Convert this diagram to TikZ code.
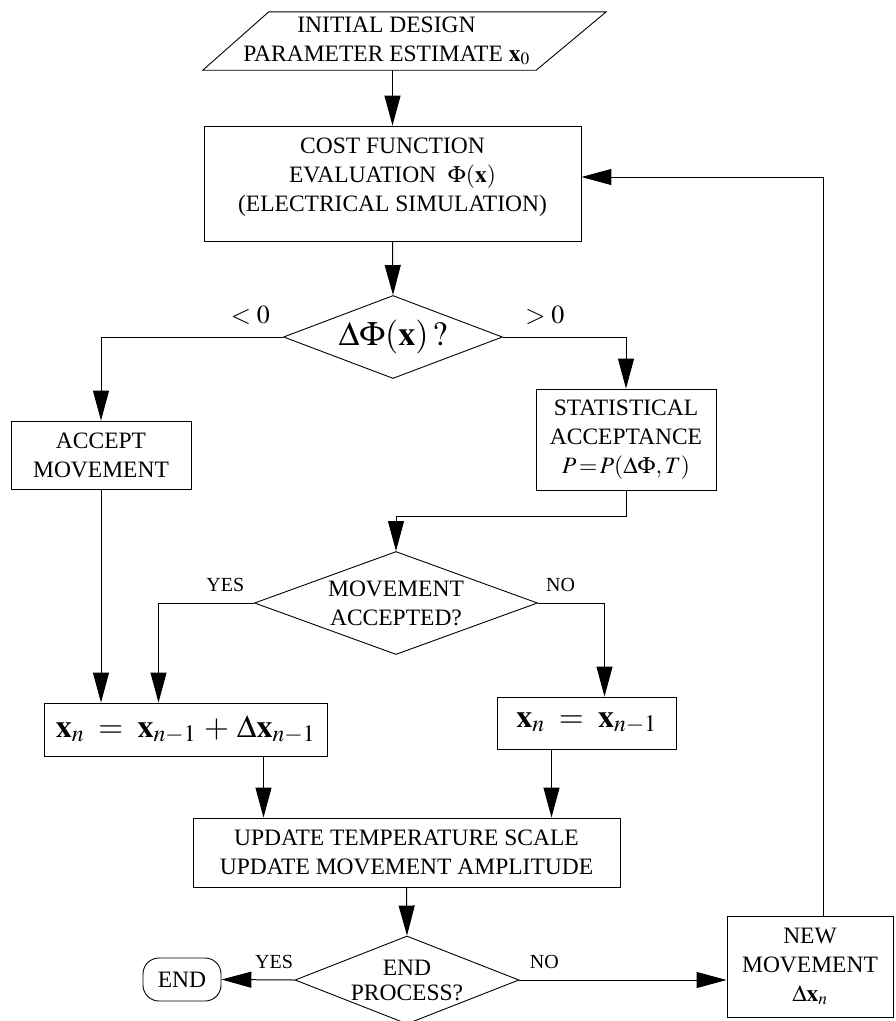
\documentclass[tikz,border=0pt]{standalone}
\usepackage{mathptmx}
\usepackage{fontspec}
\setmainfont{Liberation Serif}
\usetikzlibrary{arrows.meta,shapes.geometric,positioning}
\tikzset{
  box/.style={draw, line width=0.9pt, align=center, inner sep=2pt},
  decision/.style={draw, diamond, line width=0.9pt, align=center, inner sep=0pt},
  arr/.style={line width=1pt, -{Triangle[length=30pt,width=16pt]}},
  lbl/.style={font=\fontsize{20}{24}\selectfont, inner sep=2pt}}

\begin{document}
\begin{tikzpicture}[x=1pt, y=-1pt, font=\fontsize{23.5}{29}\selectfont]
  \useasboundingbox (0,0) rectangle (896,1021);

  \node[minimum width=403pt, minimum height=58pt, align=center, inner sep=1pt] (init) at (404.5,41)
        {\hspace*{-36pt}INITIAL DESIGN\\\hspace*{-36pt}PARAMETER ESTIMATE $\mathbf{x}_0$};
  \draw[line width=0.9pt] (init.south west) -- ([xshift=66pt]init.north west)
        -- (init.north east) -- ([xshift=-70pt]init.south east) -- cycle;
  \node[box, minimum width=377pt, minimum height=115pt] (cost) at (392.5,183.5)
        {COST FUNCTION\\EVALUATION\ \ $\Phi(\mathbf{x})$\\(ELECTRICAL SIMULATION)\\[-12pt]};
  \node[decision, aspect=2.64, minimum width=219pt, minimum height=83pt,
        font=\fontsize{34}{40}\selectfont] (delta) at (393,337) {$\Delta\Phi(\mathbf{x})\,?$};
  \node[box, minimum width=180pt, minimum height=68pt] (accept) at (101,455) {ACCEPT\\MOVEMENT};
  \node[box, minimum width=180pt, minimum height=101pt] (stat) at (626,439.5)
        {STATISTICAL\\ACCEPTANCE\\$P\!=\!P(\Delta\Phi,T)$};
  \node[decision, aspect=2.75, minimum width=283pt, minimum height=103pt] (moved) at (396,603) {MOVEMENT\\ACCEPTED?};
  \node[box, minimum width=283pt, minimum height=53pt, font=\fontsize{32}{38}\selectfont] (xnew) at (185.5,729.5)
        {$\mathbf{x}_n\;=\;\mathbf{x}_{n-1}\,+\,\Delta\mathbf{x}_{n-1}$};
  \node[box, minimum width=179pt, minimum height=52pt, font=\fontsize{32}{38}\selectfont] (xold) at (586.5,723)
        {$\mathbf{x}_n\;=\;\mathbf{x}_{n-1}$};
  \node[box, minimum width=427pt, minimum height=69pt] (update) at (406.5,852.5)
        {UPDATE TEMPERATURE SCALE\\UPDATE MOVEMENT AMPLITUDE};
  \node[decision, aspect=2.55, minimum width=224pt, minimum height=88pt,
        font=\fontsize{23.5}{25}\selectfont] (stop) at (407,980) {END\\PROCESS?};
  \node[box, rounded corners=16pt, minimum width=78pt, minimum height=43pt] (endn) at (182,979.5) {END};
  \node[box, minimum width=166pt, minimum height=101pt] (newmv) at (810,966.5)
        {NEW\\MOVEMENT\\$\Delta\mathbf{x}_n$};

  % main flow
  \draw[arr] (init.south -| cost.north) -- (cost.north);
  \draw[arr] (cost.south) -- (delta.north);
  \draw[arr] (delta.west) -| node[pos=0.09, above=10pt, inner sep=2pt, font=\fontsize{26}{30}\selectfont] {$<0$} (accept.north);
  \draw[arr] (delta.east) -| node[pos=0.17, above=10pt, inner sep=2pt, font=\fontsize{26}{30}\selectfont] {$>0$} (stat.north);
  \draw[arr] (stat.south) -- ++(0,26) -| (moved.north);
  \draw[arr] (moved.west) -| node[lbl, pos=0.15, above=9pt] {YES} ([xshift=-27pt]xnew.north);
  \draw[arr] (moved.east) -| node[lbl, pos=0.17, above=9pt] {NO} ([xshift=18pt]xold.north);
  \draw[arr] (accept.south) -- (accept.south |- xnew.north);
  \draw[arr] ([xshift=78pt]xnew.south) -- ([xshift=78pt]xnew.south |- update.north);
  \draw[arr] ([xshift=-35pt]xold.south) -- ([xshift=-35pt]xold.south |- update.north);
  \draw[arr] (update.south) -- (stop.north);
  \draw[arr] (stop.west) -- node[lbl, pos=0.28, above=9pt] {YES} (endn.east);
  \draw[arr] (stop.east) -- node[lbl, pos=0.12, above=9pt] {NO} (stop.east -| newmv.west);
  % loop back
  \draw[arr] ([xshift=13pt]newmv.north) |- ([yshift=6.5pt]cost.east);
\end{tikzpicture}
\end{document}
